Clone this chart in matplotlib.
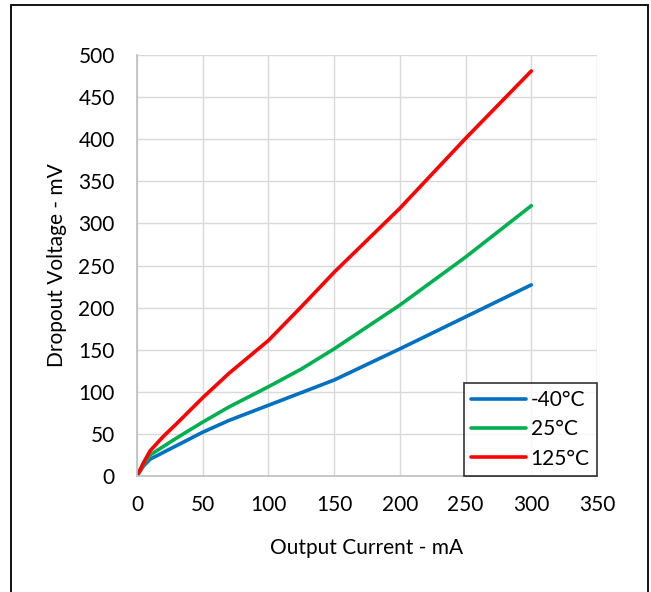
import matplotlib.pyplot as plt
from matplotlib.patches import Rectangle

# output current (mA) and dropout voltage (mV)
current = [0, 5, 10, 20, 30, 50, 70, 100, 125, 150, 200, 250, 300]
v_m40 = [0, 12, 20, 28, 36, 52, 66, 84, 99, 114, 151, 189, 227]
v_25 = [0, 14, 25, 35, 45, 64, 82, 106, 127, 151, 203, 260, 321]
v_125 = [0, 16, 30, 47, 62, 93, 122, 161, 201, 242, 318, 401, 481]

labels = ["-40°C", "25°C", "125°C"]
colors = ["#0070C0", "#00B050", "#FF0000"]

plt.rcParams["font.family"] = ["Lato", "DejaVu Sans"]

fig = plt.figure(figsize=(6.51, 5.92), dpi=100)
ax = fig.add_axes([137 / 651, 1 - 476 / 592, 460 / 651, 421 / 592])

for y, lab, c in zip([v_m40, v_25, v_125], labels, colors):
    ax.plot(current, y, color=c, lw=2.6, label=lab,
            solid_capstyle="round", solid_joinstyle="round")

ax.set_xlim(0, 350)
ax.set_ylim(0, 500)
ax.set_xticks(range(0, 351, 50))
ax.set_yticks(range(0, 501, 50))
ax.grid(True, color="#D9D9D9", lw=1)
ax.set_axisbelow(True)
ax.tick_params(length=0, labelsize=15)
ax.tick_params(axis="x", pad=14)
ax.tick_params(axis="y", pad=16)
for s in ["top", "right"]:
    ax.spines[s].set_visible(False)
for s in ["left", "bottom"]:
    ax.spines[s].set_color("#BFBFBF")
    ax.spines[s].set_linewidth(1.2)

ax.set_xlabel("Output Current - mA", fontsize=15, labelpad=16)
ax.set_ylabel("Dropout Voltage - mV", fontsize=15, labelpad=8)

leg = ax.legend(loc="lower right", bbox_to_anchor=(1.0, 0.0), fontsize=15,
                frameon=True, fancybox=False, handlelength=2.6,
                handletextpad=0.25, borderpad=0.35, labelspacing=0.45,
                borderaxespad=0)
leg.get_frame().set_edgecolor("black")
leg.get_frame().set_linewidth(1.2)

# outer frame around the chart
fig.patches.append(Rectangle((11 / 651, -0.05), 637 / 651, 1.05 - 5 / 592,
                             transform=fig.transFigure, fill=False,
                             edgecolor="black", lw=1.3))

fig.savefig("out.png", dpi=100)
